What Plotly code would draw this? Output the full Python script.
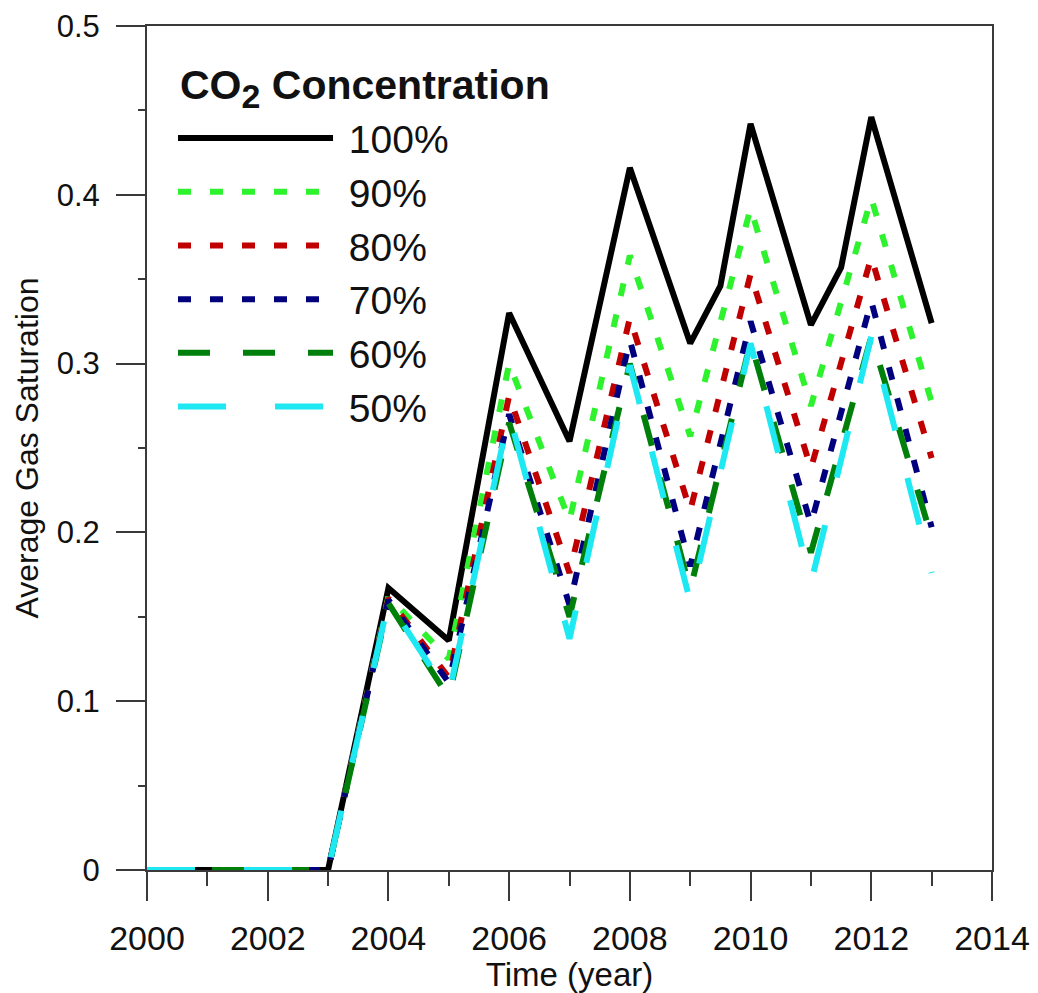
import plotly.graph_objects as go

# ---- data ----
years = [2000, 2001, 2002, 2003, 2004, 2005, 2006, 2007, 2008, 2009, 2010, 2011, 2012, 2013]
years_100 = [2000, 2001, 2002, 2003, 2004, 2005, 2006, 2007, 2008, 2009, 2009.5, 2010, 2011, 2011.5, 2012, 2013]
sat_100 = [0, 0, 0, 0, 0.167, 0.136, 0.330, 0.254, 0.416, 0.312, 0.346, 0.442, 0.323, 0.357, 0.446, 0.324]
sat_90 = [0, 0, 0, 0, 0.162, 0.125, 0.300, 0.207, 0.364, 0.257, 0.392, 0.275, 0.398, 0.277]
sat_80 = [0, 0, 0, 0, 0.161, 0.114, 0.281, 0.176, 0.327, 0.213, 0.353, 0.238, 0.363, 0.244]
sat_70 = [0, 0, 0, 0, 0.160, 0.111, 0.270, 0.157, 0.314, 0.180, 0.325, 0.205, 0.337, 0.203]
sat_60 = [0, 0, 0, 0, 0.158, 0.102, 0.265, 0.150, 0.300, 0.166, 0.313, 0.188, 0.316, 0.197]
sat_50 = [0, 0, 0, 0, 0.159, 0.104, 0.270, 0.137, 0.299, 0.159, 0.312, 0.170, 0.316, 0.176]
labels = ["100%", "90%", "80%", "70%", "60%", "50%"]
legend_title = "<b>CO<sub><span style=\"font-size:34px\">2</span></sub> Concentration</b>"

FONT = "Liberation Sans, Arial, sans-serif"
NBSP = "\u00a0"

styles = [
    dict(color="#000000", dash="solid"),
    dict(color="#2ef22e", dash="13px,19px"),
    dict(color="#c00000", dash="13px,19px"),
    dict(color="#00007f", dash="13px,19px"),
    dict(color="#00800a", dash="32px,33px"),
    dict(color="#1ee8f2", dash="48px,49px"),
]
xs = [years_100, years, years, years, years, years]
ys = [sat_100, sat_90, sat_80, sat_70, sat_60, sat_50]

fig = go.Figure()
for x, y, name, st in zip(xs, ys, labels, styles):
    fig.add_trace(go.Scatter(
        x=x, y=y, mode="lines", name=NBSP + name, cliponaxis=False,
        line=dict(color=st["color"], dash=st["dash"], width=6),
    ))

axis_common = dict(
    showgrid=False, zeroline=False, showline=True, mirror=True,
    linecolor="#3a3a3a", linewidth=2, automargin=False,
    ticks="outside", tickcolor="#3a3a3a", tickwidth=1.5,
)

fig.update_xaxes(
    range=[2000, 2014], tickmode="linear", tick0=2000, dtick=2,
    ticklen=29, tickfont=dict(family=FONT, size=34, color="#111"),
    ticklabelstandoff=8,
    minor=dict(ticks="outside", dtick=1, ticklen=14, tickcolor="#3a3a3a", tickwidth=1.5),
    title=dict(text="Time (year)", font=dict(family=FONT, size=33, color="#111"), standoff=6),
    **axis_common,
)
fig.update_yaxes(
    range=[0, 0.5], tickmode="linear", tick0=0, dtick=0.1,
    ticklen=29, tickfont=dict(family=FONT, size=31, color="#111"),
    tickformat="~g", ticklabelstandoff=10,
    minor=dict(ticks="outside", dtick=0.05, ticklen=7, tickcolor="#3a3a3a", tickwidth=1.5),
    title=dict(text="Average Gas Saturation", font=dict(family=FONT, size=32, color="#111"), standoff=8),
    **axis_common,
)

fig.add_annotation(
    text=legend_title, xref="paper", yref="paper",
    x=0.037, y=0.926, xanchor="left", yanchor="middle", showarrow=False,
    font=dict(family=FONT, size=41, color="#111"),
)

fig.update_layout(
    width=1038, height=993,
    margin=dict(l=147, r=46, t=26, b=123, autoexpand=False),
    paper_bgcolor="white", plot_bgcolor="white",
    font=dict(family=FONT, color="#111"),
    showlegend=True,
    legend=dict(
        x=0.0308, y=0.905, xanchor="left", yanchor="top",
        bgcolor="rgba(0,0,0,0)", borderwidth=0,
        font=dict(family=FONT, size=39, color="#111"),
        itemwidth=155, tracegroupgap=0,
    ),
)

fig.write_html("out.html")
